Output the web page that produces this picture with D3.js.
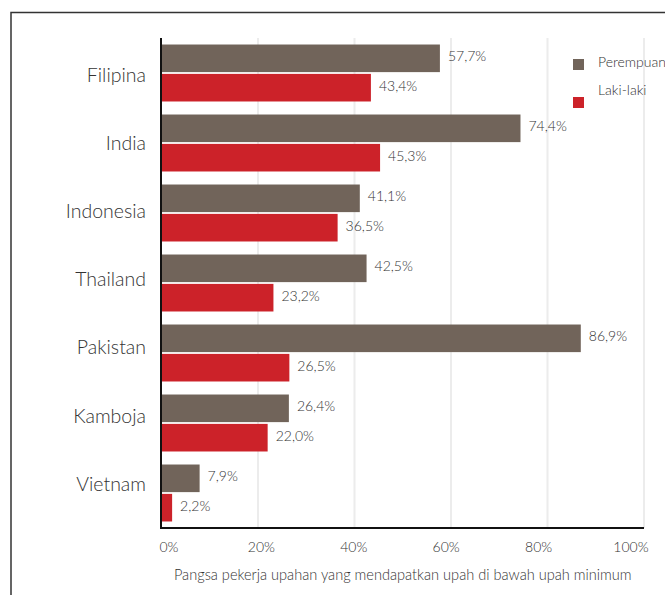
<!DOCTYPE html>
<html>
<head>
<meta charset="utf-8">
<script src="https://cdn.jsdelivr.net/npm/d3@7"></script>
<style>
  html, body { margin: 0; padding: 0; background: #fff; }
  svg { display: block; font-family: "Lato", "Open Sans", sans-serif; font-weight: 300; }
</style>
</head>
<body>
<svg id="chart" width="665" height="595"></svg>
<script>
// Share of wage workers paid below the minimum wage, by sex
const countries = ["Filipina", "India", "Indonesia", "Thailand", "Pakistan", "Kamboja", "Vietnam"];
const perempuan = [57.7, 74.4, 41.1, 42.5, 86.9, 26.4, 7.9];
const lakiLaki  = [43.4, 45.3, 36.5, 23.2, 26.5, 22.0, 2.2];
const seriesNames = ["Perempuan", "Laki-laki"];
const tickValues = [0, 20, 40, 60, 80, 100];
const axisTitle = "Pangsa pekerja upahan yang mendapatkan upah di bawah upah minimum";

const colors = { "Perempuan": "#71645a", "Laki-laki": "#cc2229" };
const textColor = "#333";

const svg = d3.select("#chart");
const fmt = v => d3.format(".1f")(v).replace(".", ",") + "%";

const rows = countries.map((c, i) => ({
  country: c,
  values: [
    { series: "Perempuan", value: perempuan[i] },
    { series: "Laki-laki", value: lakiLaki[i] }
  ]
}));

const plot = { left: 161.5, right: 644, top: 38, bottom: 528 };

const x = d3.scaleLinear().domain([0, 100]).range([plot.left, plot.right]);
// tick captions are spread slightly inside the gridline span
const xLabel = d3.scaleLinear().domain([0, 100]).range([plot.left + 7.5, plot.right - 13]);
const y = d3.scaleBand().domain(countries).range([plot.top, plot.bottom])
  .paddingInner(0.186).paddingOuter(0.093);
const ySub = d3.scaleBand().domain(seriesNames).range([0, y.bandwidth()]).paddingInner(0.06);
// country captions sit on their own, slightly tighter, vertical spacing
const yLabel = d3.scalePoint().domain(countries).range([75, 484]);

// outer frame
svg.append("rect")
  .attr("x", 11).attr("y", 12.5)
  .attr("width", 700).attr("height", 650)
  .attr("fill", "none").attr("stroke", "#333").attr("stroke-width", 1.5);

// gridlines
svg.append("g")
  .selectAll("line")
  .data(tickValues.filter(t => t > 0))
  .join("line")
  .attr("x1", d => x(d)).attr("x2", d => x(d))
  .attr("y1", plot.top).attr("y2", plot.bottom)
  .attr("stroke", "#ececec").attr("stroke-width", 2);

// bars
const groups = svg.append("g")
  .selectAll("g")
  .data(rows)
  .join("g")
  .attr("transform", d => `translate(0,${y(d.country)})`);

groups.selectAll("rect")
  .data(d => d.values)
  .join("rect")
  .attr("x", x(0))
  .attr("y", d => ySub(d.series))
  .attr("width", d => x(d.value) - x(0))
  .attr("height", ySub.bandwidth())
  .attr("fill", d => colors[d.series]);

groups.selectAll("text")
  .data(d => d.values)
  .join("text")
  .attr("x", d => x(d.value) + 8)
  .attr("y", d => ySub(d.series) + ySub.bandwidth() / 2 - 2)
  .attr("dy", "0.35em")
  .attr("font-size", 14)
  .attr("fill", textColor)
  .text(d => fmt(d.value));

// country labels
svg.append("g")
  .selectAll("text")
  .data(countries)
  .join("text")
  .attr("x", 146)
  .attr("y", d => yLabel(d))
  .attr("dy", "0.35em")
  .attr("text-anchor", "end")
  .attr("font-size", 19.5)
  .attr("fill", textColor)
  .text(d => d);

// axis lines
svg.append("line")
  .attr("x1", 161).attr("x2", 161)
  .attr("y1", plot.top).attr("y2", plot.bottom + 1)
  .attr("stroke", "#111").attr("stroke-width", 2);
svg.append("line")
  .attr("x1", 160).attr("x2", plot.right)
  .attr("y1", plot.bottom).attr("y2", plot.bottom)
  .attr("stroke", "#111").attr("stroke-width", 2);

// x tick labels
svg.append("g")
  .selectAll("text")
  .data(tickValues)
  .join("text")
  .attr("x", d => xLabel(d))
  .attr("y", 552)
  .attr("text-anchor", "middle")
  .attr("font-size", 14)
  .attr("fill", textColor)
  .text(d => d + "%");

// axis title
svg.append("text")
  .attr("x", (plot.left + plot.right) / 2)
  .attr("y", 580)
  .attr("text-anchor", "middle")
  .attr("font-size", 14.6)
  .attr("fill", textColor)
  .text(axisTitle);

// legend
const legend = svg.append("g");
const legendRows = [
  { name: "Perempuan", sy: 59, ty: 67 },
  { name: "Laki-laki", sy: 97, ty: 95 }
];
legend.selectAll("rect")
  .data(legendRows)
  .join("rect")
  .attr("x", 573).attr("y", d => d.sy)
  .attr("width", 11).attr("height", 11)
  .attr("fill", d => colors[d.name]);
legend.selectAll("text")
  .data(legendRows)
  .join("text")
  .attr("x", 598).attr("y", d => d.ty)
  .attr("font-size", 14)
  .attr("fill", textColor)
  .text(d => d.name);
</script>
</body>
</html>
